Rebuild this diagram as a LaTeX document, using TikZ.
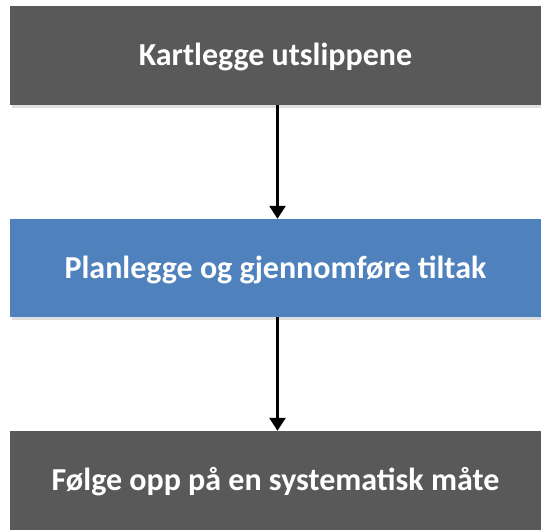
\documentclass[tikz,border=0pt]{standalone}
\usepackage{fontspec}
\setmainfont{Carlito}
\usetikzlibrary{arrows.meta,shadows}
\definecolor{boxgray}{HTML}{595959}
\definecolor{boxblue}{HTML}{4F81BD}
\tikzset{
  stage/.style={rectangle, minimum width=531pt, minimum height=99pt, inner sep=0pt,
    text=white, font=\bfseries\fontsize{32}{36}\selectfont,
    text height=20.6pt, text depth=0pt,
    drop shadow={shadow xshift=1.5pt, shadow yshift=-3pt, opacity=0.25}},
  flowarrow/.style={line width=2.6pt, -{Triangle[width=16pt,length=13pt]}}
}
\begin{document}
\begin{tikzpicture}[x=1pt,y=1pt]
\useasboundingbox (0,0) rectangle (541,-530);
\node[stage, fill=boxgray] (top) at (275.5,-55.5) {Kartlegge utslippene};
\node[stage, fill=boxblue, minimum height=98pt] (mid) at (275.5,-268) {Planlegge og gjennomføre tiltak};
\node[stage, fill=boxgray] (bot) at (275.5,-480.5) {Følge opp på en systematisk måte};
\draw[flowarrow] ([xshift=2pt]top.south) -- ([xshift=2pt]mid.north);
\draw[flowarrow] ([xshift=2pt]mid.south) -- ([xshift=2pt]bot.north);
\end{tikzpicture}
\end{document}
